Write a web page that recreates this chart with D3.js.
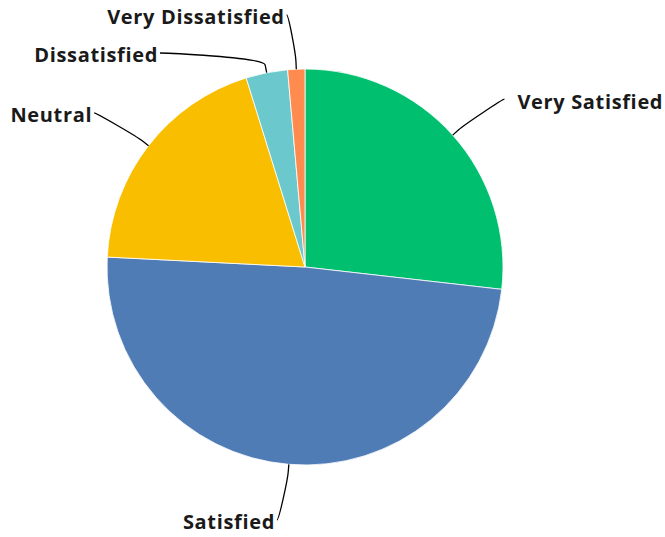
<!DOCTYPE html>
<html>
<head>
<meta charset="utf-8">
<script src="https://cdn.jsdelivr.net/npm/d3@7"></script>
<style>
  body { margin: 0; background: #fff; }
  svg { display: block; }
</style>
</head>
<body>
<div id="chart"></div>
<script>
const categories = ["Very Satisfied", "Satisfied", "Neutral", "Dissatisfied", "Very Dissatisfied"];
const values = [26.8, 49.0, 19.4, 3.4, 1.4];
const colours = ["#00BF6F", "#507CB6", "#F9BE00", "#6BC8CD", "#FF8B4F"];

const WIDTH = 665, HEIGHT = 537;
const cx = 305, cy = 267, R = 198;
const labelR = 258;     // radius where the label connectors end
const labelDy = 4;      // labels are laid out round a slightly lower centre
const padX = 5;
const breakR = R + 8;   // connector bends just outside the pie
const minGap = 38;      // min vertical gap between labels on one side
const topLimit = 15, bottomLimit = 520;

const svg = d3.select("#chart").append("svg")
  .attr("width", WIDTH)
  .attr("height", HEIGHT);

const g = svg.append("g").attr("transform", "translate(" + cx + "," + cy + ")");

const pie = d3.pie().sort(null).value(d => d.v);
const arcs = pie(categories.map((c, i) => ({c: c, v: values[i], col: colours[i]})));

const arc = d3.arc().innerRadius(0).outerRadius(R);

g.selectAll("path.slice")
  .data(arcs)
  .enter().append("path")
  .attr("class", "slice")
  .attr("d", arc)
  .attr("fill", d => d.data.col)
  .attr("stroke", "#fff")
  .attr("stroke-width", 0.8)
  .attr("stroke-linejoin", "round");

// point on a circle of radius r at angle a (d3 angle: 0 = top, clockwise)
function polar(a, r) {
  return [Math.sin(a) * r, -Math.cos(a) * r];
}

// natural label positions
const labels = arcs.map(d => {
  const mid = (d.startAngle + d.endAngle) / 2;
  const p = polar(mid, labelR);
  const left = Math.sin(mid) < 0;
  return {d: d, mid: mid, left: left, x: p[0] + (left ? -padX : padX), y: p[1] + labelDy};
});

// keep labels inside the plot, then push them apart on each side
[true, false].forEach(side => {
  const list = labels.filter(l => l.left === side).sort((a, b) => a.y - b.y);
  let prev = null;
  list.forEach(l => {
    l.y = Math.min(Math.max(l.y, topLimit - cy), bottomLimit - cy);
    if (prev !== null && l.y < prev + minGap) {
      l.y = prev + minGap;
      const yy = l.y - labelDy;
      const dx = Math.sqrt(Math.max(0, labelR * labelR - yy * yy)) + padX;
      l.x = side ? -dx : dx;
    }
    prev = l.y;
  });
});

// connectors, soft curve near the label then straight into the slice
g.selectAll("path.connector")
  .data(labels)
  .enter().append("path")
  .attr("class", "connector")
  .attr("fill", "none")
  .attr("stroke", "#000")
  .attr("stroke-width", 1.3)
  .attr("d", l => {
    const t = polar(l.mid, R);
    const b = polar(l.mid, breakR);
    const sx = l.x + (l.left ? -2 : 2);
    return "M" + sx + "," + l.y +
      "C" + l.x + "," + l.y + " " + (2 * b[0] - t[0]) + "," + (2 * b[1] - t[1]) + " " + b[0] + "," + b[1] +
      "L" + t[0] + "," + t[1];
  });

g.selectAll("text.label")
  .data(labels)
  .enter().append("text")
  .attr("class", "label")
  .attr("x", l => l.left ? l.x - 4 : l.x + 15)
  .attr("y", l => l.y + 4)
  .attr("dominant-baseline", "middle")
  .attr("text-anchor", l => l.left ? "end" : "start")
  .style("font-family", "'Open Sans', sans-serif")
  .style("font-weight", "700")
  .style("font-size", "20px")
  .style("letter-spacing", "0.65px")
  .style("fill", "#1a1a1a")
  .text(l => l.d.data.c);
</script>
</body>
</html>
